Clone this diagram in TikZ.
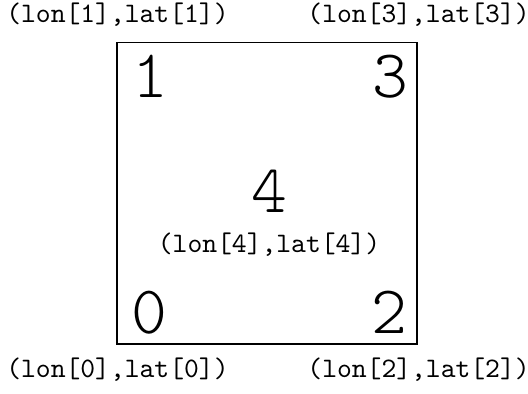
\documentclass[tikz,border=0pt]{standalone}
\usepackage{fontspec}
\newfontfamily\lightmono{Latin Modern Mono Light}
\usepackage{tikz}
\usetikzlibrary{positioning}

\begin{document}
\begin{tikzpicture}[
    x=0.365pt, y=-0.365pt,
    cellbox/.style={rectangle, draw, inner sep=0pt, minimum width=109.5pt, minimum height=109.9pt},
    corner/.style={anchor=base, font=\lightmono\fontsize{24.88}{30}\selectfont, inner sep=0pt},
    coord/.style={anchor=base, font=\ttfamily\fontsize{10.3}{12}\selectfont, inner sep=0pt}
]
\useasboundingbox (0,0) rectangle (528,394);
\node[cellbox] (cell) at (267,193.5) {};
% point numbers
\node[corner] (p1) at ([shift={(34,55)}]cell.north west) {1};
\node[corner] (p3) at ([shift={(-27,55)}]cell.north east) {3};
\node[corner] (p0) at ([shift={(33,-11)}]cell.south west) {0};
\node[corner] (p2) at ([shift={(-28,-11)}]cell.south east) {2};
\node[corner] (p4) at ([shift={(2,19.5)}]cell.center) {4};
% lon/lat labels
\node[coord] (c1) at ([shift={(1,-20)}]cell.north west) {(lon[1],lat[1])};
\node[coord] (c3) at ([shift={(1,-20)}]cell.north east) {(lon[3],lat[3])};
\node[coord] (c0) at ([shift={(1,33)}]cell.south west) {(lon[0],lat[0])};
\node[coord] (c2) at ([shift={(1,33)}]cell.south east) {(lon[2],lat[2])};
\node[coord] (c4) at ([shift={(2,59.5)}]cell.center) {(lon[4],lat[4])};
\end{tikzpicture}
\end{document}
